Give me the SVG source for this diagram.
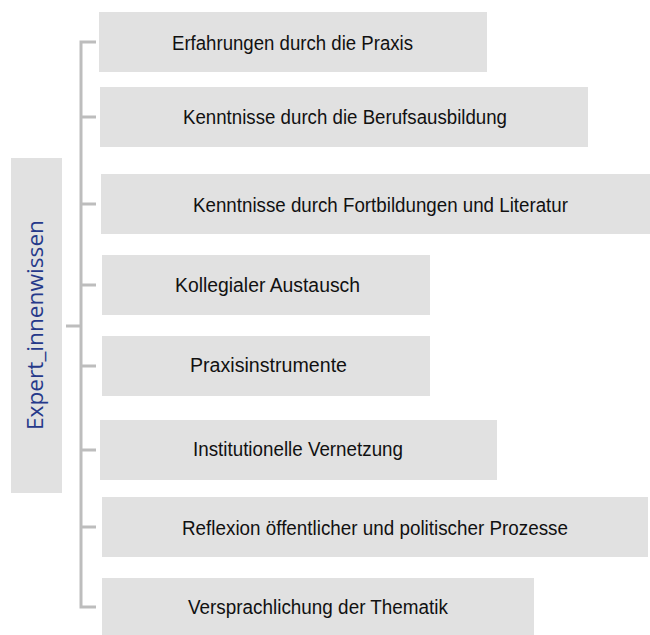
<svg xmlns="http://www.w3.org/2000/svg" width="650" height="635" viewBox="0 0 650 635">
<style>
.box{fill:#e1e1e1}
.lbl{font-family:"Liberation Sans",Arial,sans-serif;font-size:20px;fill:#111}
.root{font-family:"Open Sans","Noto Sans",sans-serif;font-size:21px;fill:#26398a}
.con{stroke:#bdbdbd;stroke-width:3;fill:none}
</style>
<rect width="650" height="635" fill="#ffffff"/>
<g id="connectors">
<path class="con" d="M96 42 H81 V607 H96"/>
<path class="con" d="M81 117 H96 M81 204 H96 M81 285 H96 M81 366 H96 M81 450 H96 M81 527 H96 M66 326 H81"/>
</g>
<g id="root">
<rect class="box" x="11" y="158" width="51" height="335"/>
<text class="root" transform="translate(43,325) rotate(-90)" text-anchor="middle" textLength="210" lengthAdjust="spacingAndGlyphs">Expert_innenwissen</text>
</g>
<g id="n1">
<rect class="box" x="99" y="12" width="388" height="60"/>
<text class="lbl" x="172" y="50" textLength="241" lengthAdjust="spacingAndGlyphs">Erfahrungen durch die Praxis</text>
</g>
<g id="n2">
<rect class="box" x="100" y="87" width="488" height="60"/>
<text class="lbl" x="183" y="124" textLength="324" lengthAdjust="spacingAndGlyphs">Kenntnisse durch die Berufsausbildung</text>
</g>
<g id="n3">
<rect class="box" x="101" y="174" width="549" height="60"/>
<text class="lbl" x="193" y="212" textLength="375" lengthAdjust="spacingAndGlyphs">Kenntnisse durch Fortbildungen und Literatur</text>
</g>
<g id="n4">
<rect class="box" x="102" y="255" width="328" height="60"/>
<text class="lbl" x="175" y="292" textLength="185" lengthAdjust="spacingAndGlyphs">Kollegialer Austausch</text>
</g>
<g id="n5">
<rect class="box" x="102" y="336" width="328" height="60"/>
<text class="lbl" x="190" y="372" textLength="157" lengthAdjust="spacingAndGlyphs">Praxisinstrumente</text>
</g>
<g id="n6">
<rect class="box" x="100" y="420" width="397" height="60"/>
<text class="lbl" x="193" y="456" textLength="210" lengthAdjust="spacingAndGlyphs">Institutionelle Vernetzung</text>
</g>
<g id="n7">
<rect class="box" x="102" y="497" width="546" height="60"/>
<text class="lbl" x="182" y="535" textLength="386" lengthAdjust="spacingAndGlyphs">Reflexion öffentlicher und politischer Prozesse</text>
</g>
<g id="n8">
<rect class="box" x="102" y="578" width="432" height="60"/>
<text class="lbl" x="188" y="614" textLength="260" lengthAdjust="spacingAndGlyphs">Versprachlichung der Thematik</text>
</g>
</svg>
